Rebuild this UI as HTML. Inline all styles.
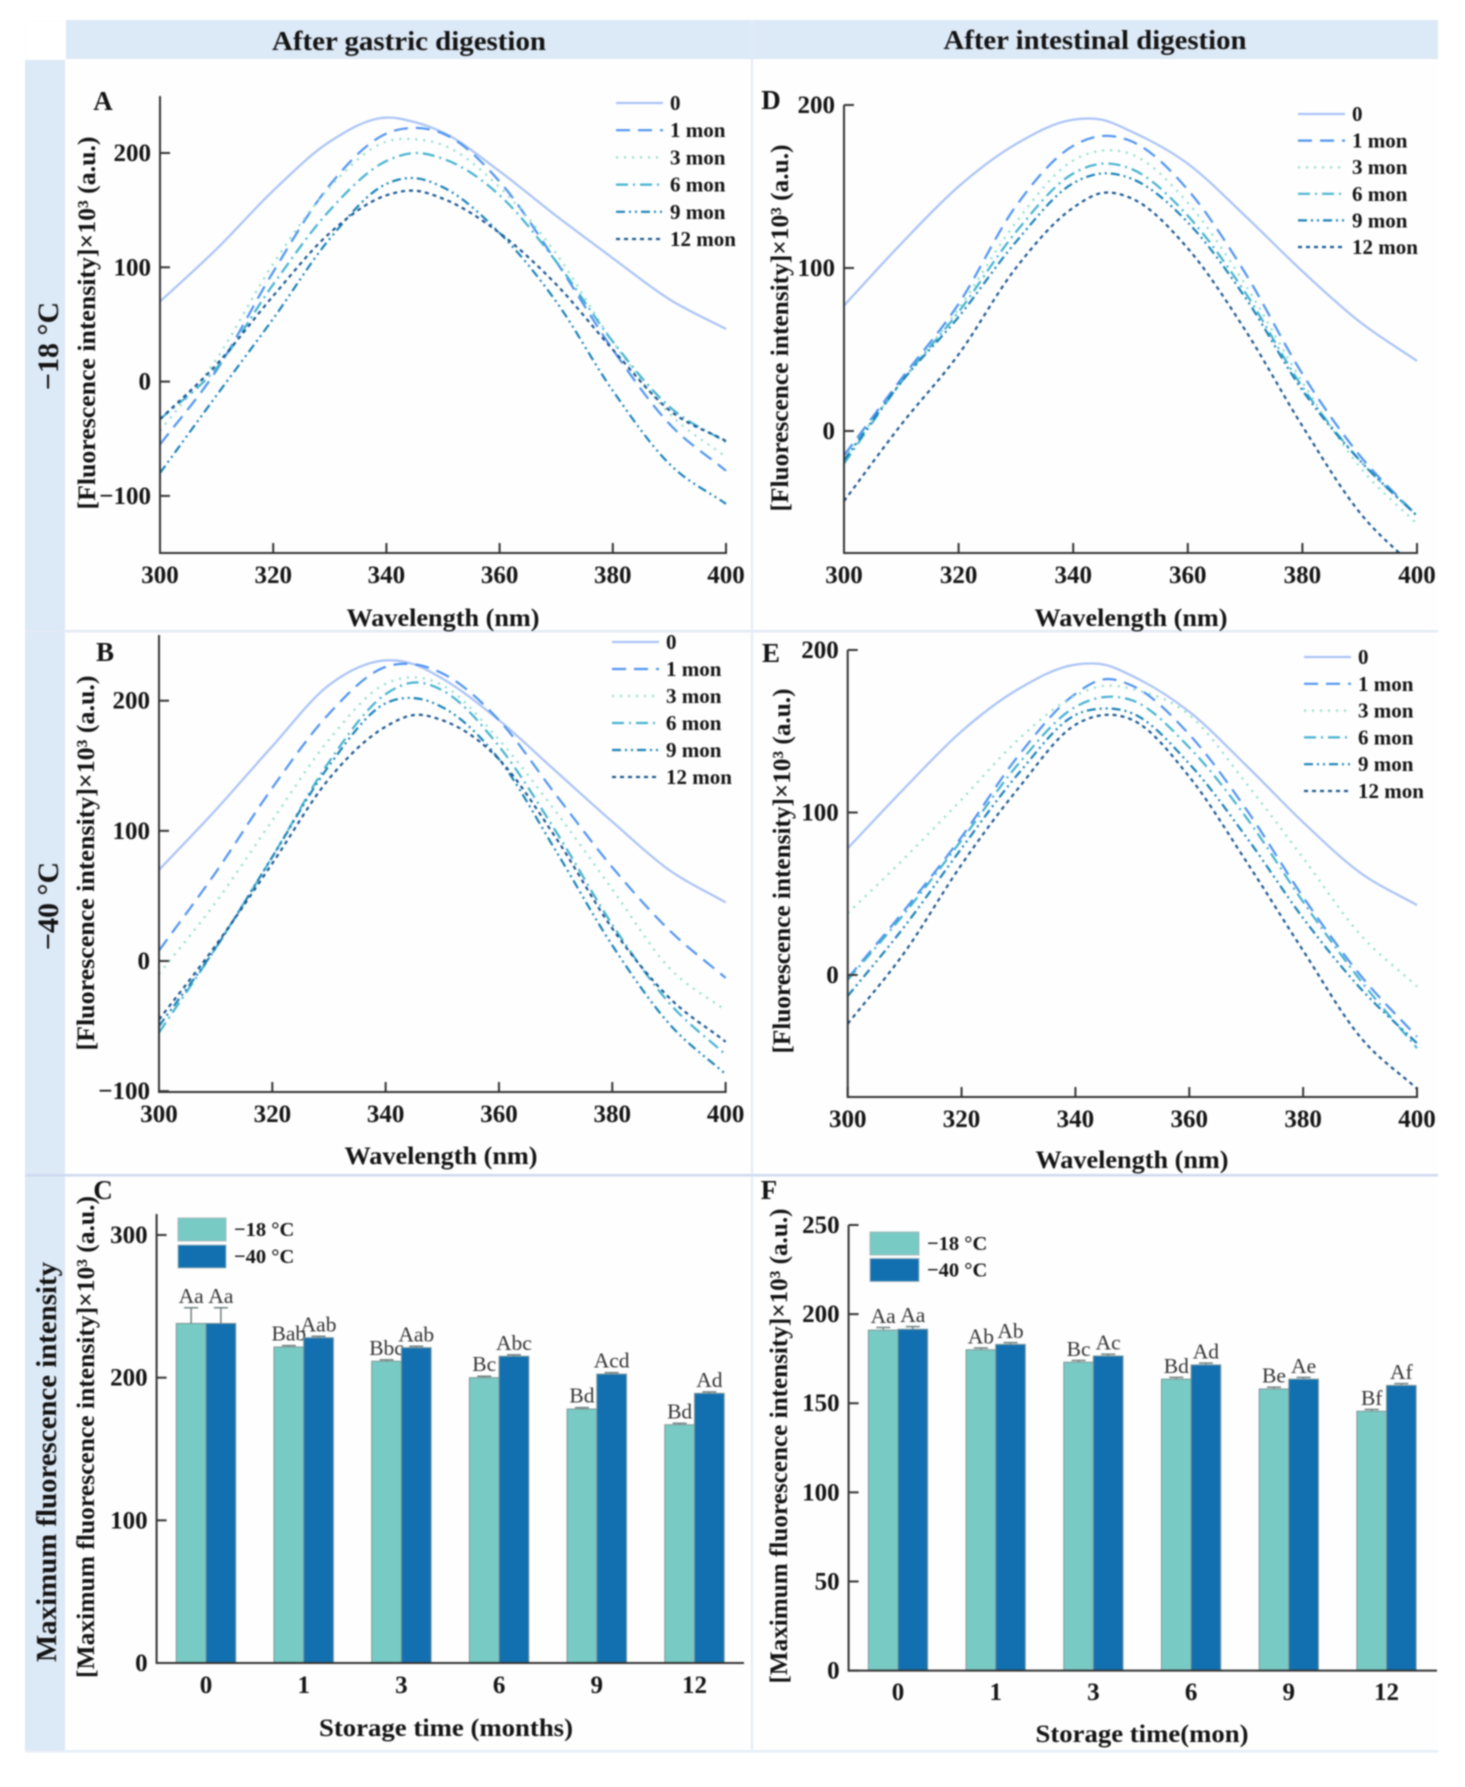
<!DOCTYPE html>
<html lang="en">
<head>
<meta charset="utf-8">
<title>Fluorescence spectra after digestion</title>
<style>
html,body{margin:0;padding:0;background:#fff;}
svg{display:block;filter:blur(0.7px);}
text{font-family:"Liberation Serif",serif;fill:#141414;}
.b{font-weight:bold;}
</style>
</head>
<body>
<svg id="fig" xmlns="http://www.w3.org/2000/svg" width="1465" height="1787" viewBox="0 0 1465 1787">
  <rect x="0" y="0" width="1465" height="1787" fill="#ffffff"/>
  <rect x="25" y="20" width="1413" height="1732" fill="#fefefe"/>
  <rect x="66" y="20" width="686" height="39" fill="#dce9f6"/>
  <rect x="753" y="20" width="685" height="39" fill="#dce9f6"/>
  <rect x="25" y="60" width="40" height="1692" fill="#dce9f6"/>
  <rect x="27" y="22" width="38" height="36" fill="#ffffff"/>
  <rect x="751" y="20" width="2" height="1732" fill="#e3ebf7"/>
  <rect x="25" y="630" width="1413" height="2.5" fill="#e3e9f7"/>
  <rect x="25" y="1174" width="1413" height="2.5" fill="#cfd9f0"/>
  <rect x="25" y="1750" width="1413" height="2.5" fill="#e6eef8"/>
  <text class="b" x="409" y="50" text-anchor="middle" font-size="27" textLength="274" lengthAdjust="spacingAndGlyphs">After gastric digestion</text>
  <text class="b" x="1099" y="49" text-anchor="middle" font-size="27" textLength="303" lengthAdjust="spacingAndGlyphs" transform="translate(-4,0)">After intestinal digestion</text>
  <text class="b" transform="translate(58,346) rotate(-90)" text-anchor="middle" font-size="30">−18 °C</text>
  <text class="b" transform="translate(58,906) rotate(-90)" text-anchor="middle" font-size="30">−40 °C</text>
  <text class="b" transform="translate(56,1462) rotate(-90)" text-anchor="middle" font-size="29" textLength="400" lengthAdjust="spacingAndGlyphs">Maximum fluorescence intensity</text>
</svg>
<script>
const wavelengths = [300,310,320,330,340,345,350,360,370,380,390,400];
const xTicks = [300,320,340,360,380,400];
const legendLabels = ['0','1 mon','3 mon','6 mon','9 mon','12 mon'];

const panelA0  = [70,116,167,210,231,227,218,184,145,108,72,46];
const panelA1  = [-55,10,96,172,217,222,217,175,105,28,-37,-78];
const panelA3  = [-43,20,103,170,210,212,207,170,112,35,-28,-66];
const panelA6  = [-33,12,85,150,193,200,195,163,105,35,-22,-53];
const panelA9  = [-80,-12,55,125,173,178,170,130,70,-8,-72,-107];
const panelA12 = [-33,15,75,130,163,167,160,130,85,28,-25,-52];

const panelB0  = [70,116,165,212,231,228,217,185,146,107,70,45];
const panelB1  = [8,68,133,190,226,228,221,185,128,72,24,-13];
const panelB3  = [-10,45,108,170,213,218,212,170,115,55,-5,-38];
const panelB6  = [-55,10,80,153,205,214,208,165,100,28,-32,-72];
const panelB9  = [-50,10,80,150,198,202,195,155,85,12,-48,-87];
const panelB12 = [-45,12,75,140,180,189,185,155,95,25,-28,-62];

const panelD0  = [77,115,150,176,191,191,184,164,132,98,67,43];
const panelD1  = [-15,32,78,138,175,181,178,148,97,35,-15,-52];
const panelD3  = [-17,30,75,128,166,172,170,140,90,30,-22,-57];
const panelD6  = [-20,30,73,122,158,164,161,132,85,27,-18,-52];
const panelD9  = [-18,30,70,116,152,158,155,128,82,25,-18,-52];
const panelD12 = [-43,4,47,100,137,146,143,112,62,3,-50,-85];

const panelE0  = [78,115,150,176,191,191,184,162,129,94,63,43];
const panelE1  = [-2,40,85,135,173,182,178,148,102,48,0,-38];
const panelE3  = [38,72,108,145,172,178,176,160,118,72,25,-7];
const panelE6  = [-3,38,83,130,165,171,169,140,97,45,-3,-45];
const panelE9  = [-13,30,78,124,160,164,161,130,85,35,-8,-42];
const panelE12 = [-30,14,68,115,154,160,157,122,70,15,-38,-70];

const panelATicks = [-100,0,100,200];
const panelBTicks = [-100,0,100,200];
const panelDTicks = [0,100,200];
const panelETicks = [0,100,200];

const barCategories = ['0','1','3','6','9','12'];
const panelC18 = [238,221.5,211.5,200,178,167];
const panelC40 = [238,228,221,215,202.5,189];
const panelCErr18 = [11,1,1,1,1,1];
const panelCErr40 = [11,1,1,1,1,1];
const panelCLabels18 = ['Aa','Bab','Bbc','Bc','Bd','Bd'];
const panelCLabels40 = ['Aa','Aab','Aab','Abc','Acd','Ad'];
const panelCTicks = [0,100,200,300];

const panelF18 = [191,180,173,163.5,158,145.5];
const panelF40 = [191.5,183,176.5,171.5,163.5,160];
const panelFErr18 = [1.5,1,1,1,1,1];
const panelFErr40 = [1.5,1,1,1,1,1];
const panelFLabels18 = ['Aa','Ab','Bc','Bd','Be','Bf'];
const panelFLabels40 = ['Aa','Ab','Ac','Ad','Ae','Af'];
const panelFTicks = [0,50,100,150,200,250];

const svg = document.getElementById('fig');
const NS = 'http://www.w3.org/2000/svg';
const AXIS = '#333333';
const lineColors = ['#a9c3f6','#4f94f0','#8fdccb','#45b2cf','#1a82b8','#1b5792'];
const lineDashes = ['', '14 8', '2 6', '12 5 2 5', '9 4 2 4 2 4', '4 4'];

function make(tag, attrs, parent){
  const el = document.createElementNS(NS, tag);
  for(const k in attrs) el.setAttribute(k, attrs[k]);
  (parent || svg).appendChild(el);
  return el;
}
function linear(d0,d1,r0,r1){ return v => r0 + (v-d0)*(r1-r0)/(d1-d0); }

function smoothPath(xs, ys){
  const n = xs.length, m = [];
  for(let i=0;i<n;i++){
    if(i===0) m.push((ys[1]-ys[0])/(xs[1]-xs[0]));
    else if(i===n-1) m.push((ys[n-1]-ys[n-2])/(xs[n-1]-xs[n-2]));
    else {
      const h0=xs[i]-xs[i-1], h1=xs[i+1]-xs[i];
      const s0=(ys[i]-ys[i-1])/h0, s1=(ys[i+1]-ys[i])/h1;
      m.push((s0*h1+s1*h0)/(h0+h1));
    }
  }
  let d = 'M'+xs[0].toFixed(1)+' '+ys[0].toFixed(1);
  for(let i=0;i<n-1;i++){
    const h=(xs[i+1]-xs[i])/3;
    d += 'C'+(xs[i]+h).toFixed(1)+' '+(ys[i]+m[i]*h).toFixed(1)+' '+(xs[i+1]-h).toFixed(1)+' '+(ys[i+1]-m[i+1]*h).toFixed(1)+' '+xs[i+1].toFixed(1)+' '+ys[i+1].toFixed(1);
  }
  return d;
}

function yAxisFurniture(g, axisX, yScale, yTicks, top, bottom, tickRight, labelRight){
  const yAxis = make('line',{x1:axisX,x2:axisX,y1:top,y2:bottom+1,stroke:AXIS,'stroke-width':2},g);
  
  
  yTicks.forEach(t=>{
    const tick = make('line',{x1:axisX,x2:axisX+tickRight,y1:yScale(t),y2:yScale(t),stroke:AXIS,'stroke-width':2},g);
    
    
    const lab = make('text',{x:labelRight,y:yScale(t)+8,'text-anchor':'end','font-size':25,'class':'b'},g);
    
    
    lab.textContent = String(t).replace('-','−');
  });
}

function lineChart(cfg){
  const g = make('g',{});
  
  
  const xS = linear(300,400,cfg.x0,cfg.x1);
  const yS = linear(cfg.v0,cfg.v1,cfg.y0,cfg.y1);
  const clip = make('clipPath',{id:'clip-'+cfg.name},g);
  make('rect',{x:cfg.x0,y:cfg.top,width:cfg.x1-cfg.x0+3,height:cfg.bottom-cfg.top},clip);
  cfg.series.forEach((vals,i)=>{
    const p = make('path',{d:smoothPath(wavelengths.map(xS),vals.map(yS)),fill:'none',stroke:lineColors[i],'stroke-width':2.2,'stroke-dasharray':lineDashes[i],'clip-path':'url(#clip-'+cfg.name+')'},g);
    
    
  });
  yAxisFurniture(g,cfg.x0,yS,cfg.yTicks,cfg.top,cfg.bottom,10,cfg.x0-9);
  const xAxis = make('line',{x1:cfg.x0,x2:cfg.x1+1,y1:cfg.bottom,y2:cfg.bottom,stroke:AXIS,'stroke-width':2},g);
  
  
  xTicks.forEach(t=>{
    const tick = make('line',{x1:xS(t),x2:xS(t),y1:cfg.bottom,y2:cfg.bottom-10,stroke:AXIS,'stroke-width':2},g);
    
    
    const lab = make('text',{x:xS(t),y:cfg.xLabelY,'text-anchor':'middle','font-size':25,'class':'b'},g);
    
    
    lab.textContent = t;
  });
  const xt = make('text',{x:cfg.xTitleX,y:cfg.xTitleY,'text-anchor':'middle','font-size':25,'class':'b',textLength:193,lengthAdjust:'spacingAndGlyphs'},g);
  
  
  xt.textContent = 'Wavelength (nm)';
  const yt = make('text',{transform:'translate('+cfg.yTitleX+','+cfg.yTitleY+') rotate(-90)','text-anchor':'middle','font-size':25,'class':'b',textLength:cfg.yTitleLen,lengthAdjust:'spacingAndGlyphs'},g);
  
  
  yt.textContent = '[Fluorescence intensity]×10³ (a.u.)';
  const letter = make('text',{x:cfg.letterX,y:cfg.letterY,'text-anchor':'middle','font-size':27,'class':'b'},g);
  
  
  letter.textContent = cfg.letter;
  legendLabels.forEach((name,i)=>{
    const ly = cfg.legendYs + i*cfg.legendStep;
    const sw = make('line',{x1:cfg.legendX,x2:cfg.legendX+47,y1:ly,y2:ly,stroke:lineColors[i],'stroke-width':2.2,'stroke-dasharray':lineDashes[i]},g);
    
    
    const lt = make('text',{x:cfg.legendX+54,y:ly+7,'font-size':21,'class':'b'},g);
    
    
    lt.textContent = name;
  });
}

lineChart({name:'chart-a',letter:'A',letterX:103,letterY:110,x0:160,x1:726,v0:0,v1:200,y0:381.6,y1:153,top:96,bottom:553,
  yTicks:panelATicks,series:[panelA0,panelA1,panelA3,panelA6,panelA9,panelA12],xLabelY:583,xTitleX:443,xTitleY:626,yTitleX:95,yTitleY:323,yTitleLen:373,legendX:616,legendYs:103,legendStep:27.2});
lineChart({name:'chart-d',letter:'D',letterX:771,letterY:109,x0:844,x1:1417,v0:0,v1:200,y0:431,y1:105,top:105,bottom:553,
  yTicks:panelDTicks,series:[panelD0,panelD1,panelD3,panelD6,panelD9,panelD12],xLabelY:583,xTitleX:1131,xTitleY:626,yTitleX:788,yTitleY:328,yTitleLen:367,legendX:1298,legendYs:114,legendStep:26.6});
lineChart({name:'chart-b',letter:'B',letterX:105,letterY:661,x0:159,x1:725.6,v0:0,v1:200,y0:961,y1:700.7,top:635,bottom:1092,
  yTicks:panelBTicks,series:[panelB0,panelB1,panelB3,panelB6,panelB9,panelB12],xLabelY:1122,xTitleX:441,xTitleY:1164,yTitleX:94,yTitleY:863,yTitleLen:375,legendX:612,legendYs:642,legendStep:27});
lineChart({name:'chart-e',letter:'E',letterX:771,letterY:662,x0:847.7,x1:1417,v0:0,v1:200,y0:975,y1:650,top:650,bottom:1097,
  yTicks:panelETicks,series:[panelE0,panelE1,panelE3,panelE6,panelE9,panelE12],xLabelY:1127,xTitleX:1132,xTitleY:1168,yTitleX:790,yTitleY:871,yTitleLen:365,legendX:1304,legendYs:657,legendStep:26.8});

function barChart(cfg){
  const g = make('g',{});
  
  
  const yS = linear(0,cfg.vRef,cfg.y0,cfg.yRef);
  const xC = i => cfg.firstX + i*cfg.step;
  const colors = ['#78cbc4','#1270b0'];
  [[cfg.s18,cfg.e18,cfg.l18,-1],[cfg.s40,cfg.e40,cfg.l40,0]].forEach((set,si)=>{
    barCategories.forEach((c,i)=>{
      const left = xC(i) + set[3]*cfg.bw;
      const cx = left + cfg.bw/2;
      const top = yS(set[0][i]);
      const errTop = yS(set[0][i]+set[1][i]);
      const stem = make('line',{x1:cx,x2:cx,y1:top,y2:errTop,stroke:'#6f7f80','stroke-width':1.5},g);
      
      
      const cap = make('line',{x1:cx-7,x2:cx+7,y1:errTop,y2:errTop,stroke:'#6f7f80','stroke-width':1.5},g);
      
      
      const bar = make('rect',{x:left,y:top,width:cfg.bw,height:cfg.y0-top,fill:colors[si],stroke:'#7d9496','stroke-width':1},g);
      
      
      const lab = make('text',{x:cx,y:errTop-cfg.labelGap,'text-anchor':'middle','font-size':21.5},g);
      
      
      lab.style.fill = '#333333';
      lab.textContent = set[2][i];
    });
  });
  yAxisFurniture(g,cfg.axisX,yS,cfg.yTicks,cfg.top,cfg.y0,10,cfg.axisX-9);
  const xAxis = make('line',{x1:cfg.axisX,x2:cfg.axisEnd,y1:cfg.y0,y2:cfg.y0,stroke:AXIS,'stroke-width':2},g);
  
  
  barCategories.forEach((c,i)=>{
    const lab = make('text',{x:xC(i),y:cfg.xLabelY,'text-anchor':'middle','font-size':25,'class':'b'},g);
    
    
    lab.textContent = c;
  });
  const xt = make('text',{x:cfg.xTitleX,y:cfg.xTitleY,'text-anchor':'middle','font-size':25,'class':'b',textLength:cfg.xTitleLen,lengthAdjust:'spacingAndGlyphs'},g);
  
  
  xt.textContent = cfg.xTitle;
  const yt = make('text',{transform:'translate('+cfg.yTitleX+','+cfg.yTitleY+') rotate(-90)','text-anchor':'middle','font-size':25,'class':'b',textLength:cfg.yTitleLen,lengthAdjust:'spacingAndGlyphs'},g);
  
  
  yt.textContent = '[Maximum fluorescence intensity]×10³ (a.u.)';
  const letter = make('text',{x:cfg.letterX,y:cfg.letterY,'text-anchor':'middle','font-size':27,'class':'b'},g);
  
  
  letter.textContent = cfg.letter;
  ['−18 °C','−40 °C'].forEach((name,i)=>{
    const ly = cfg.legendY + i*cfg.legendStep;
    const sw = make('rect',{x:cfg.legendX,y:ly,width:cfg.legendW,height:23,fill:colors[i],stroke:'#a7b9bc','stroke-width':1},g);
    
    
    const lt = make('text',{x:cfg.legendX+cfg.legendW+8,y:ly+18,'font-size':20.5,'class':'b'},g);
    
    
    lt.textContent = name;
  });
}

barChart({name:'chart-c',letter:'C',letterX:103,letterY:1199,axisX:156.6,axisEnd:744,top:1214,y0:1663,vRef:300,yRef:1235,
  firstX:206,step:97.7,bw:29.7,labelGap:5,s18:panelC18,s40:panelC40,e18:panelCErr18,e40:panelCErr40,l18:panelCLabels18,l40:panelCLabels40,yTicks:panelCTicks,
  xLabelY:1693,xTitle:'Storage time (months)',xTitleX:446,xTitleY:1736,xTitleLen:254,yTitleX:94,yTitleY:1437,yTitleLen:482,legendX:178,legendY:1218,legendStep:27,legendW:48});
barChart({name:'chart-f',letter:'F',letterX:769,letterY:1199,axisX:848.6,axisEnd:1437,top:1225,y0:1670.6,vRef:250,yRef:1225,
  firstX:898,step:97.7,bw:29.6,labelGap:4.5,s18:panelF18,s40:panelF40,e18:panelFErr18,e40:panelFErr40,l18:panelFLabels18,l40:panelFLabels40,yTicks:panelFTicks,
  xLabelY:1700,xTitle:'Storage time(mon)',xTitleX:1142,xTitleY:1742,xTitleLen:213,yTitleX:787,yTitleY:1446,yTitleLen:475,legendX:870,legendY:1232,legendStep:26.5,legendW:49});
</script>
</body>
</html>
